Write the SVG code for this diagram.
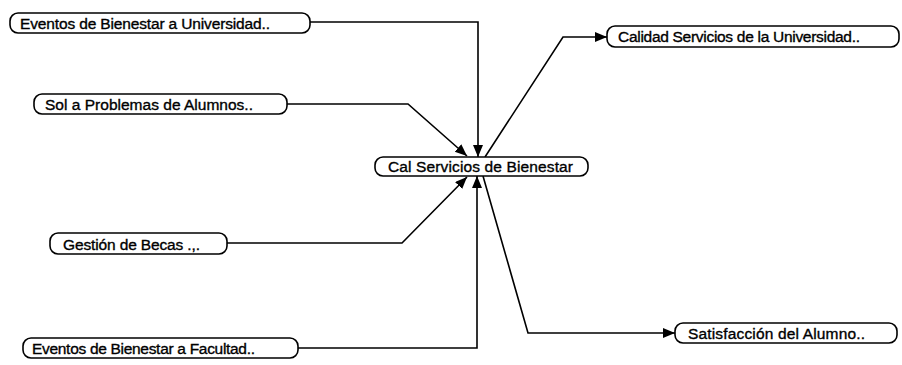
<svg xmlns="http://www.w3.org/2000/svg" width="902" height="365" viewBox="0 0 902 365">
<style>
.box{fill:#fff;stroke:#000;stroke-width:1.6}
.t{font-family:"Liberation Sans",Arial,sans-serif;font-size:15.5px;fill:#000;stroke:#000;stroke-width:0.35}
.c{fill:none;stroke:#000;stroke-width:1.6}
</style>
<defs>
<marker id="ah" markerUnits="userSpaceOnUse" markerWidth="14" markerHeight="12" refX="12" refY="5" orient="auto">
<path d="M0,0 L12,5 L0,10 Z" fill="#000"/>
</marker>
</defs>
<rect width="902" height="365" fill="#fff"/>
<g id="connectors">
<path class="c" d="M310,22 H478 V157" marker-end="url(#ah)"/>
<path class="c" d="M287,104 H408 L467,156" marker-end="url(#ah)"/>
<path class="c" d="M227,243 H402 L467,177" marker-end="url(#ah)"/>
<path class="c" d="M298,348 H477 V176" marker-end="url(#ah)"/>
<path class="c" d="M485,157 L563,37 H607" marker-end="url(#ah)"/>
<path class="c" d="M483,176 L528,333 H675" marker-end="url(#ah)"/>
</g>
<g id="n1"><rect class="box" x="10" y="13" width="300" height="20" rx="8"/><text class="t" x="20" y="28.5" textLength="250">Eventos de Bienestar a Universidad..</text></g>
<g id="n2"><rect class="box" x="34" y="94" width="253" height="20" rx="8"/><text class="t" x="45" y="109.5" textLength="208">Sol a Problemas de Alumnos..</text></g>
<g id="n3"><rect class="box" x="50" y="233" width="177" height="21" rx="8"/><text class="t" x="63" y="249.5" textLength="137">Gestión de Becas .,.</text></g>
<g id="n4"><rect class="box" x="23" y="338" width="275" height="20" rx="8"/><text class="t" x="32" y="353.5" textLength="223">Eventos de Bienestar a Facultad..</text></g>
<g id="center"><rect class="box" x="375" y="157" width="213" height="19" rx="8"/><text class="t" x="388" y="172" textLength="185">Cal Servicios de Bienestar</text></g>
<g id="n5"><rect class="box" x="607" y="26" width="292" height="21" rx="8"/><text class="t" x="618" y="42" textLength="242">Calidad Servicios de la Universidad..</text></g>
<g id="n6"><rect class="box" x="675" y="323" width="222" height="20" rx="8"/><text class="t" x="688" y="338.5" textLength="177">Satisfacción del Alumno..</text></g>
</svg>
